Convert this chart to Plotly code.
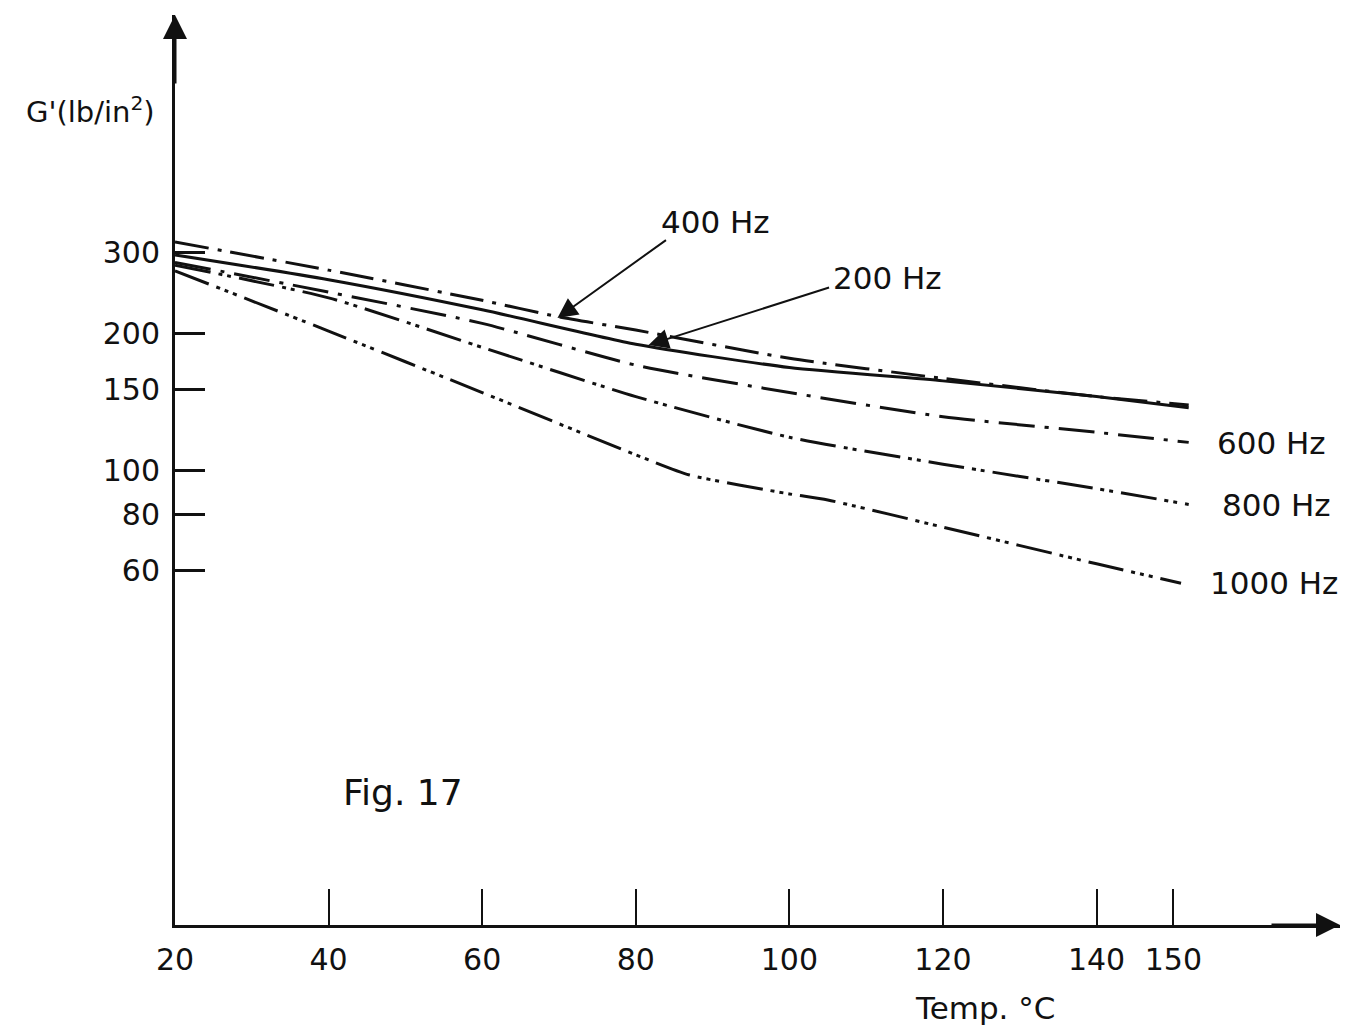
import plotly.graph_objects as go

# ---- data ----
temp_400 = [20, 40, 60, 70, 80, 100, 120, 140, 152]
g_400 = [317, 275, 236, 217, 203, 176, 159, 145, 139]

temp_200 = [20, 40, 60, 80, 100, 120, 140, 152]
g_200 = [297, 262, 225, 189, 168, 157, 145, 137]

temp_600 = [20, 40, 60, 80, 100, 120, 140, 152]
g_600 = [286, 246, 210, 170, 148, 131, 121, 115]

temp_800 = [20, 40, 60, 80, 100, 120, 140, 152]
g_800 = [282, 239, 186, 145, 118, 103, 91, 84]

temp_1000 = [20, 40, 60, 80, 87, 100, 105, 120, 140, 151]
g_1000 = [274, 202, 148, 108, 97.5, 88.6, 85.9, 74.9, 62.2, 56.4]

x_ticks = [20, 40, 60, 80, 100, 120, 140, 150]
y_ticks = [60, 80, 100, 150, 200, 300]

series = [
    ("400 Hz", temp_400, g_400, "34px,9px,4px,9px"),
    ("200 Hz", temp_200, g_200, "solid"),
    ("600 Hz", temp_600, g_600, "36px,10px,4px,10px"),
    ("800 Hz", temp_800, g_800, "36px,8px,4px,5px,4px,8px"),
    ("1000 Hz", temp_1000, g_1000, "36px,8px,4px,5px,4px,5px,4px,8px"),
]

FONT = "DejaVu Sans"
INK = "#111111"

fig = go.Figure()
for name, t, g, dash in series:
    fig.add_trace(go.Scatter(
        x=t, y=g, mode="lines", name=name,
        line=dict(color=INK, width=3, dash=dash, shape="spline", smoothing=0.6),
        showlegend=False, hoverinfo="skip",
    ))

fig.update_layout(
    width=1357, height=1032,
    margin=dict(l=175, r=17, t=15, b=107),
    paper_bgcolor="white", plot_bgcolor="white",
    xaxis=dict(
        range=[20, 171.7], showgrid=False, zeroline=False,
        showline=True, linecolor=INK, linewidth=3,
        tickvals=x_ticks, ticktext=[str(v) for v in x_ticks],
        ticks="inside", ticklen=36, tickwidth=2, tickcolor=INK,
        ticklabelstandoff=6,
        tickfont=dict(family=FONT, size=30, color=INK),
    ),
    yaxis=dict(
        type="log", range=[1, 3], showgrid=False, zeroline=False,
        showline=True, linecolor=INK, linewidth=3,
        tickvals=y_ticks, ticktext=[str(v) for v in y_ticks],
        ticks="inside", ticklen=30, tickwidth=3, tickcolor=INK,
        ticklabelstandoff=6,
        tickfont=dict(family=FONT, size=30, color=INK),
    ),
)

def T(px):
    return 20 + (px - 175) / 7.67

def LG(py):
    return 1 + (925 - py) / 455

labels = [
    ("400 Hz", 715, 222),
    ("200 Hz", 887, 278),
    ("600 Hz", 1270, 443),
    ("800 Hz", 1275, 505),
    ("1000 Hz", 1273, 583),
]
for text, px, py in labels:
    fig.add_annotation(x=T(px), y=LG(py), xref="x", yref="y", text=text,
                       showarrow=False, xanchor="center", yanchor="middle",
                       font=dict(family=FONT, size=31, color=INK))

# pointer arrows for 400 Hz and 200 Hz
for tip, tail in [((557, 318), (667, 239)), ((648, 345), (830, 287))]:
    fig.add_annotation(x=T(tip[0]), y=LG(tip[1]), xref="x", yref="y", text="",
                       showarrow=True, arrowhead=2, arrowsize=2.0, arrowwidth=2,
                       arrowcolor=INK, ax=tail[0] - tip[0], ay=tail[1] - tip[1])

# axis arrow heads
fig.add_annotation(x=20, y=3, xref="x", yref="y", text="", showarrow=True,
                   arrowhead=2, arrowsize=1.6, arrowwidth=3, arrowcolor=INK,
                   ax=0, ay=70)
fig.add_annotation(x=171.7, y=1, xref="x", yref="y", text="", showarrow=True,
                   arrowhead=2, arrowsize=1.6, arrowwidth=3, arrowcolor=INK,
                   ax=-70, ay=0)

def paper_text(text, px, py, size):
    fig.add_annotation(x=(px - 175) / 1165, y=(925 - py) / 910,
                       xref="paper", yref="paper", text=text, showarrow=False,
                       xanchor="center", yanchor="middle",
                       font=dict(family=FONT, size=size, color=INK))

paper_text("G'(lb/in<sup>2</sup>)", 90, 110, 29)
paper_text("Temp. °C", 985, 1008, 31)
paper_text("Fig. 17", 403, 792, 36)

fig.write_html("out.html")
